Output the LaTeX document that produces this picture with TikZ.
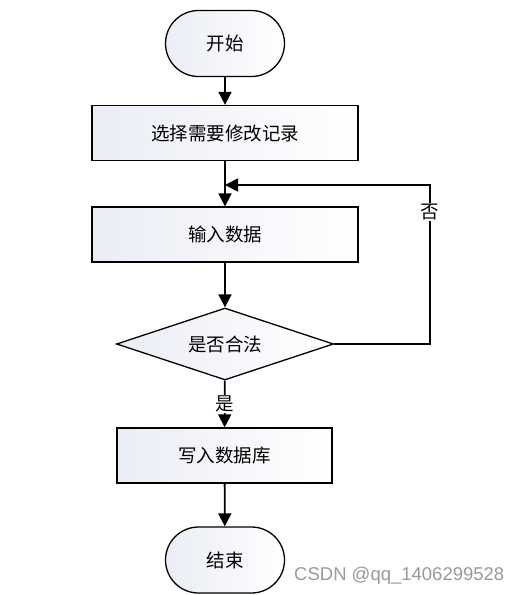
\documentclass[tikz,border=0pt]{standalone}
\usepackage{fontspec}
\newfontfamily\cjk{Noto Sans CJK SC}
\usetikzlibrary{shapes.geometric,arrows.meta}
\definecolor{shadeL}{RGB}{234,237,245}
\begin{document}
\begin{tikzpicture}[x=1pt,y=-1pt,
  base/.style={draw=black,line width=1.3pt,left color=shadeL,right color=white,font=\cjk\fontsize{18.5}{20}\selectfont,inner sep=0pt},
  term/.style={base,rectangle,rounded corners=33pt,minimum width=119pt,minimum height=66pt},
  proc/.style={base,rectangle,minimum height=55pt},
  dec/.style={base,diamond,aspect=3,minimum width=217pt,minimum height=72pt},
  conn/.style={line width=1.8pt,-{Triangle[length=13pt,width=13pt]}},
  lbl/.style={fill=white,font=\cjk\fontsize{18.5}{20}\selectfont,inner sep=1pt}]
\useasboundingbox (0,0) rectangle (520,595);
\node[term] (start) at (225,43.5) {开始};
\node[proc,minimum width=266pt] (sel) at (225,133) {选择需要修改记录};
\node[proc,minimum width=266pt] (inp) at (225,234.5) {输入数据};
\node[dec] (chk) at (225,344) {是否合法};
\node[proc,minimum width=215pt] (wr) at (224.5,455.5) {写入数据库};
\node[term] (end) at (225,560) {结束};
\coordinate (loopR) at (430,344);
\coordinate (loopT) at (430,185);
\coordinate (join) at (225,185);
\draw[conn] (start) -- (sel);
\draw[conn] (sel) -- (inp);
\draw[conn] (inp) -- (chk);
\draw[conn] (chk) -- (wr);
\draw[conn] (wr) -- (end);
\draw[conn] (chk.east) -- (loopR) -- (loopT) -- (join);
\node[lbl] (no) at (430,212) {否};
\node[lbl] (yes) at (225,404) {是};
\node[font=\fontspec{Liberation Sans}\fontsize{18.5}{20}\selectfont,text=black!40,anchor=west,inner sep=0pt] (wm) at (294,576) {CSDN @qq\_1406299528};
\end{tikzpicture}
\end{document}
